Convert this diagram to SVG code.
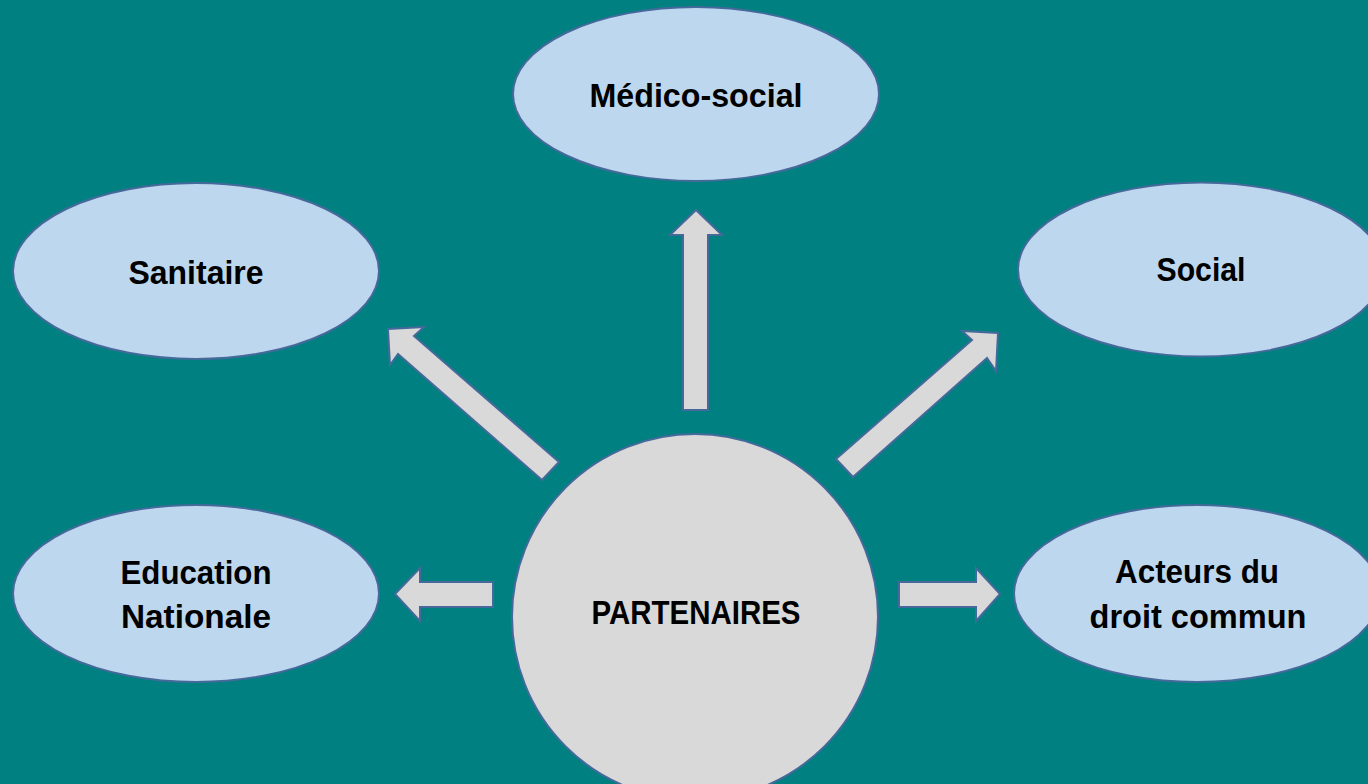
<svg xmlns="http://www.w3.org/2000/svg" width="1368" height="784" viewBox="0 0 1368 784">
<style>
.bg{fill:#008080}
.node{fill:#BDD7EE;stroke:#45699A;stroke-width:2}
.hub{fill:#D9D9D9;stroke:#45699A;stroke-width:2}
.arrow{fill:#D9D9D9;stroke:#45699A;stroke-width:2;stroke-linejoin:miter}
.lbl{font-family:"Liberation Sans",Arial,sans-serif;font-weight:bold;font-size:33px;fill:#000;text-anchor:middle}
</style>
<rect class="bg" x="0" y="0" width="1368" height="784"/>
<g id="connectors">
<polygon class="arrow" points="683,410 683,235 670,235 696,210 722,235 708,235 708,410"/>
<polygon class="arrow" points="542,480 398,354 390,365 388,329 424,327 414,336 559,462"/>
<polygon class="arrow" points="836,459 972,340 962,331 998,333 996,371 987,358 853,477"/>
<polygon class="arrow" points="493,582 420,582 420,568 395,594 420,621 420,607 493,607"/>
<polygon class="arrow" points="899,582 976,582 976,568 1000,594 976,621 976,607 899,607"/>
</g>
<g id="partenaires">
<circle class="hub" cx="695" cy="617" r="183"/>
<text class="lbl" x="696" y="624" textLength="209" lengthAdjust="spacingAndGlyphs">PARTENAIRES</text>
</g>
<g id="medico-social">
<ellipse class="node" cx="696" cy="94" rx="183" ry="87"/>
<text class="lbl" x="696" y="107" textLength="213" lengthAdjust="spacingAndGlyphs">Médico-social</text>
</g>
<g id="sanitaire">
<ellipse class="node" cx="196" cy="271" rx="183" ry="88"/>
<text class="lbl" x="196" y="284" textLength="135" lengthAdjust="spacingAndGlyphs">Sanitaire</text>
</g>
<g id="social">
<ellipse class="node" cx="1201" cy="269.5" rx="183" ry="87"/>
<text class="lbl" x="1201" y="281" textLength="89" lengthAdjust="spacingAndGlyphs">Social</text>
</g>
<g id="education-nationale">
<ellipse class="node" cx="196" cy="593.5" rx="183" ry="88.5"/>
<text class="lbl" x="196" y="584" textLength="151" lengthAdjust="spacingAndGlyphs">Education</text>
<text class="lbl" x="196" y="628" textLength="150" lengthAdjust="spacingAndGlyphs">Nationale</text>
</g>
<g id="acteurs-droit-commun">
<ellipse class="node" cx="1197" cy="593.5" rx="183" ry="88.5"/>
<text class="lbl" x="1197" y="583" textLength="164" lengthAdjust="spacingAndGlyphs">Acteurs du</text>
<text class="lbl" x="1198" y="628" textLength="217" lengthAdjust="spacingAndGlyphs">droit commun</text>
</g>
</svg>
